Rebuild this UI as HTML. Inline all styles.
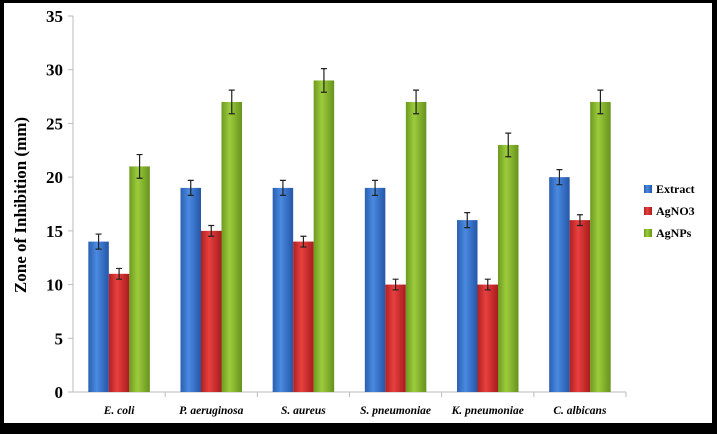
<!DOCTYPE html>
<html><head><meta charset="utf-8"><style>
html,body{margin:0;padding:0;background:#000;}
svg{display:block;font-family:"Liberation Serif",serif;}
</style></head><body>
<svg width="717" height="434" viewBox="0 0 717 434">
<defs>
<linearGradient id="gb" x1="0" x2="1"><stop offset="0" stop-color="#2a5fb0"/><stop offset="0.4" stop-color="#4a8ae0"/><stop offset="1" stop-color="#2456a8"/></linearGradient>
<linearGradient id="gr" x1="0" x2="1"><stop offset="0" stop-color="#b02020"/><stop offset="0.4" stop-color="#e84040"/><stop offset="1" stop-color="#a81c1c"/></linearGradient>
<linearGradient id="gg" x1="0" x2="1"><stop offset="0" stop-color="#6e9a20"/><stop offset="0.4" stop-color="#9ccc3c"/><stop offset="1" stop-color="#67921c"/></linearGradient>
</defs>
<rect x="4" y="3" width="708" height="420" fill="#fff"/>
<g id="plot"></g>
<text transform="translate(26,205) rotate(-90)" text-anchor="middle" font-weight="bold" font-size="17">Zone of Inhibition (mm)</text>
<g>
<rect x="644" y="185" width="8" height="8" fill="url(#gb)"/>
<text x="656" y="193" font-size="12" font-weight="bold">Extract</text>
<rect x="644" y="207" width="8" height="8" fill="url(#gr)"/>
<text x="656" y="215" font-size="12" font-weight="bold">AgNO3</text>
<rect x="644" y="229" width="8" height="8" fill="url(#gg)"/>
<text x="656" y="237" font-size="12" font-weight="bold">AgNPs</text>
</g>
</svg>
<script>
const categories=["E. coli","P. aeruginosa","S. aureus","S. pneumoniae","K. pneumoniae","C. albicans"];
const extract=[14,19,19,19,16,20];
const agno3=[11,15,14,10,10,16];
const agnps=[21,27,29,27,23,27];
const errors=[0.7,0.5,1.1];
const yTicks=[0,5,10,15,20,25,30,35];
const NS="http://www.w3.org/2000/svg";
const g=document.getElementById('plot');
const x0=73,x1=626,y0=392,y1=16,yMax=35;
const y=v=>y0-(v/yMax)*(y0-y1);
const cw=(x1-x0)/categories.length;
function mk(t,a){const e=document.createElementNS(NS,t);for(const k in a)e.setAttribute(k,a[k]);g.appendChild(e);return e;}
let ax=mk('line',{x1:x0,y1:y1,x2:x0,y2:y0,stroke:'#bbb'});

let bx=mk('line',{x1:x0,y1:y0,x2:x1,y2:y0,stroke:'#bbb'});

yTicks.forEach(v=>{
 let l=mk('line',{x1:x0-5,y1:y(v),x2:x0,y2:y(v),stroke:'#bbb'});
 
 let t=mk('text',{x:x0-10,y:y(v)+6,'text-anchor':'end','font-size':17,'font-weight':'bold'});
 t.textContent=v;
 
});
const series=[[extract,'url(#gb)','extract'],[agno3,'url(#gr)','agno3'],[agnps,'url(#gg)','agnps']];
const bw=20.5;
categories.forEach((c,i)=>{
 let tk=mk('line',{x1:x0+cw*(i+1),y1:y0,x2:x0+cw*(i+1),y2:y0+5,stroke:'#bbb'});
 
 const cx=x0+cw*(i+0.5);
 series.forEach((s,j)=>{
  const v=s[0][i];const bx0=cx-bw*1.5+j*bw;
  let r=mk('rect',{x:bx0,y:y(v),width:bw,height:y0-y(v),fill:s[1]});
  
  const e=errors[j], mx=bx0+bw/2;
  let el=mk('path',{d:`M${mx},${y(v+e)}V${y(v-e)}M${mx-3},${y(v+e)}H${mx+3}M${mx-3},${y(v-e)}H${mx+3}`,stroke:'#222','stroke-width':1.2,fill:'none'});
  
 });
 let t=mk('text',{x:cx,y:414,'text-anchor':'middle','font-size':11.5,'font-weight':'bold','font-style':'italic'});
 t.textContent=c;
 
});
</script>
</body></html>
